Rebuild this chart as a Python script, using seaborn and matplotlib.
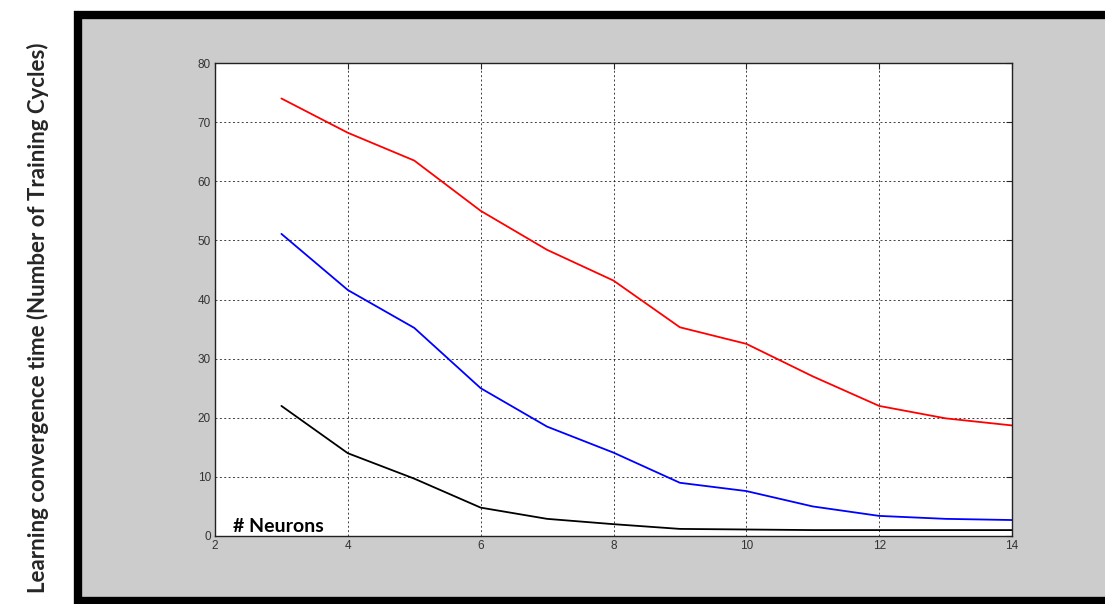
import numpy as np
import pandas as pd
import seaborn as sns
import matplotlib.pyplot as plt
from matplotlib.patches import Rectangle

# values
neurons = [3, 4, 5, 6, 7, 8, 9, 10, 11, 12, 13, 14]
cycles_red = [74.0, 68.2, 63.5, 55.0, 48.4, 43.2, 35.3, 32.5, 27.0, 22.0, 19.9, 18.7]
cycles_blue = [51.1, 41.6, 35.2, 25.0, 18.5, 14.1, 9.0, 7.6, 5.0, 3.4, 2.9, 2.7]
cycles_black = [22.0, 14.0, 9.7, 4.8, 2.9, 2.0, 1.2, 1.1, 1.0, 1.0, 1.0, 1.0]
x_ticks = [2, 4, 6, 8, 10, 12, 14]
y_ticks = [0, 10, 20, 30, 40, 50, 60, 70, 80]

df = pd.DataFrame({
    'neurons': neurons * 3,
    'cycles': cycles_red + cycles_blue + cycles_black,
    'series': ['red'] * 12 + ['blue'] * 12 + ['black'] * 12,
})

sns.set_style('white')
plt.rcParams['font.family'] = ['Liberation Sans', 'DejaVu Sans']

fig = plt.figure(figsize=(11.05, 6.04), dpi=100)
fig.patch.set_facecolor('white')

# grey panel with thick black frame (right edge runs off the picture)
panel = Rectangle((77.5 / 1105, 3 / 604), 1.1, 586 / 604, transform=fig.transFigure,
                  facecolor='#cccccc', edgecolor='black', linewidth=6, zorder=-1)
fig.patches.append(panel)

ax = fig.add_axes([215 / 1105, 68 / 604, 797 / 1105, 473 / 604])
ax.set_facecolor('white')

sns.lineplot(data=df, x='neurons', y='cycles', hue='series',
             palette={'red': '#ff0000', 'blue': '#0000ff', 'black': '#000000'},
             linewidth=1.3, legend=False, ax=ax)

ax.set_xlim(2, 14)
ax.set_ylim(0, 80)
ax.set_xticks(x_ticks)
ax.set_yticks(y_ticks)
ax.grid(True, color='black', linestyle=(0, (2, 2.5)), linewidth=0.7, alpha=0.75)
ax.tick_params(direction='in', length=4, width=0.8, labelsize=8.5, labelcolor='#333333',
               top=True, right=True, pad=3)
for s in ax.spines.values():
    s.set_color('#222222')
    s.set_linewidth(1.0)
ax.set_xlabel('')
ax.set_ylabel('')

ax.text(2.27, 0.6, '# Neurons', fontsize=14, fontweight='bold', family=['Lato', 'DejaVu Sans'],
        va='baseline', ha='left', color='black')

fig.text(38 / 1105, 1 - 318 / 604, 'Learning convergence time (Number of Training Cycles)',
         rotation=90, ha='center', va='center', fontsize=16, fontweight='bold',
         family=['Lato', 'DejaVu Sans'])

fig.savefig('out.png', dpi=100)
